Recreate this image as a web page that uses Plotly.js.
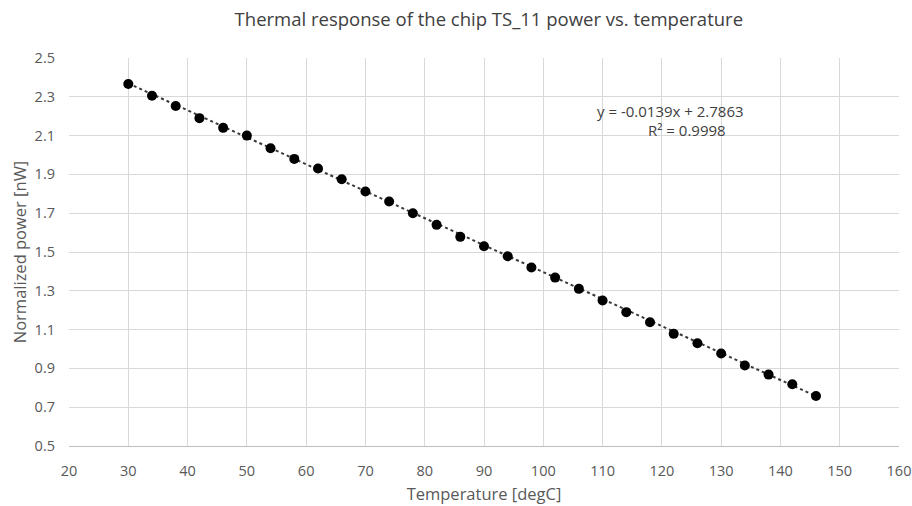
<!DOCTYPE html>
<html>
<head>
<meta charset="utf-8">
<script src="https://cdn.plot.ly/plotly-3.0.1.min.js"></script>
<style>html,body{margin:0;padding:0;background:#fff;}#chart{width:912px;height:506px;}</style>
</head>
<body>
<div id="chart"></div>
<script>
const temperature = [30, 34, 38, 42, 46, 50, 54, 58, 62, 66, 70, 74, 78, 82, 86, 90, 94, 98, 102, 106, 110, 114, 118, 122, 126, 130, 134, 138, 142, 146];
const power = [2.366, 2.305, 2.253, 2.19, 2.14, 2.10, 2.035, 1.98, 1.93, 1.875, 1.812, 1.76, 1.70, 1.64, 1.578, 1.53, 1.478, 1.42, 1.368, 1.31, 1.25, 1.19, 1.138, 1.078, 1.03, 0.977, 0.915, 0.868, 0.818, 0.758];
const trendSlope = -0.0139;
const trendIntercept = 2.7863;
const rSquared = 0.9998;
const xTicks = [20, 30, 40, 50, 60, 70, 80, 90, 100, 110, 120, 130, 140, 150, 160];
const yTicks = [0.5, 0.7, 0.9, 1.1, 1.3, 1.5, 1.7, 1.9, 2.1, 2.3, 2.5];

const xFirst = temperature[0], xLast = temperature[temperature.length - 1];
const trendX = [xFirst, xLast];
const trendY = trendX.map(x => trendSlope * x + trendIntercept);

const font = "Open Sans, Noto Sans, sans-serif";
const traces = [
  {x: trendX, y: trendY, mode: 'lines', type: 'scatter',
   line: {color: '#3a3a3a', width: 2, dash: 'dot'}, hoverinfo: 'skip'},
  {x: temperature, y: power, mode: 'markers', type: 'scatter',
   marker: {color: '#000000', size: 10}}
];
const layout = {
  width: 912, height: 506,
  margin: {l: 69, r: 13, t: 58, b: 60},
  paper_bgcolor: '#ffffff', plot_bgcolor: '#ffffff',
  showlegend: false,
  font: {family: font, color: '#595959', size: 14},
  title: {text: 'Thermal response of the chip TS_11 power vs. temperature',
          x: 0.536, xanchor: 'center', y: 0.962, yanchor: 'middle',
          font: {family: font, size: 18.5, color: '#404040'}},
  xaxis: {range: [20, 160], tickvals: xTicks, ticktext: xTicks.map(String),
          showgrid: true, gridcolor: '#d9d9d9', gridwidth: 1,
          zeroline: false, showline: true, linecolor: '#bfbfbf', linewidth: 1,
          ticks: '', ticklabelstandoff: 12,
          tickfont: {family: font, size: 14.5, color: '#595959'},
          title: {text: 'Temperature [degC]', standoff: 9,
                  font: {family: font, size: 16.5, color: '#595959'}}},
  yaxis: {range: [0.5, 2.5], tickvals: yTicks, ticktext: yTicks.map(v => v.toFixed(1)),
          showgrid: true, gridcolor: '#d9d9d9', gridwidth: 1,
          zeroline: false, showline: false, ticks: '', ticklabelstandoff: 13,
          tickfont: {family: font, size: 14.5, color: '#595959'},
          title: {text: 'Normalized power [nW]', standoff: 3,
                  font: {family: font, size: 16.5, color: '#595959'}}},
  annotations: [
    {x: 121.5, y: 2.227, xref: 'x', yref: 'y', showarrow: false,
     text: 'y = ' + trendSlope + 'x + ' + trendIntercept,
     font: {family: font, size: 15, color: '#404040'}},
    {x: 124.3, y: 2.129, xref: 'x', yref: 'y', showarrow: false,
     text: 'R² = ' + rSquared,
     font: {family: font, size: 15, color: '#404040'}}
  ]
};
Plotly.newPlot('chart', traces, layout, {displayModeBar: false, staticPlot: true});
</script>
</body>
</html>
